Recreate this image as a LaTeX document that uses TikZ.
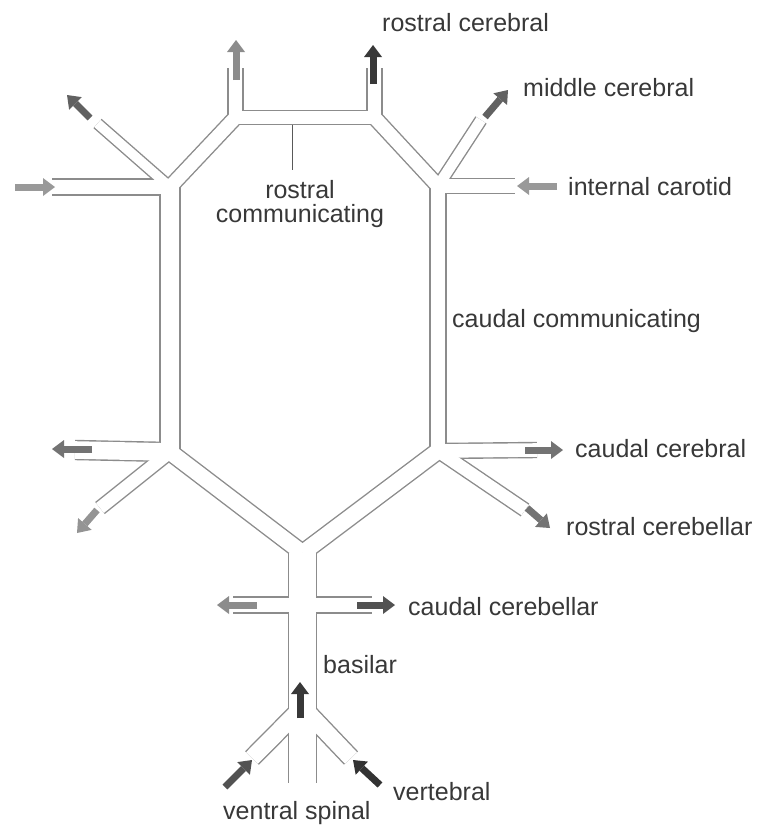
\documentclass[tikz,border=0pt]{standalone}
\usepackage{fontspec}
\setmainfont{Liberation Sans}
\usepackage{tikz}
\usetikzlibrary{arrows.meta}
\colorlet{wallgray}{black!45}
\colorlet{txtgray}{black!78}

\begin{document}
\begin{tikzpicture}[x=1pt,y=-1pt,
  wall/.style={draw=wallgray, line cap=butt},
  lumen/.style={draw=white, line cap=butt},
  lbl/.style={font=\fontsize{25}{24}\selectfont, text=txtgray, inner sep=0pt, anchor=base west},
  flow/.style={-{Triangle[width=18pt,length=12pt,line width=0pt]}, line width=7pt, draw=black!#1},
  leader/.style={draw=black!65, line width=1pt},
]
\useasboundingbox (0,0) rectangle (764,830);

% Junctions of the ring
\coordinate (TLup) at (235.5,68);
\coordinate (TL)   at (235.5,117.5);
\coordinate (TR)   at (374.5,117.5);
\coordinate (TRup) at (374.5,68);
\coordinate (LU)   at (170,187);
\coordinate (RU)   at (438,186);
\coordinate (LL)   at (170,452);
\coordinate (RL)   at (438,451);
\coordinate (V)    at (302.5,553);
\coordinate (VB)   at (302.5,707);
\coordinate (BS)   at (302.5,783);

% Open ends of the branches
\coordinate (icL)  at (52,187);
\coordinate (mcL)  at (97.5,123.5);
\coordinate (icR)  at (515,186);
\coordinate (mcR)  at (481,120);
\coordinate (ccL)  at (75,450);
\coordinate (rcbL) at (100,508);
\coordinate (ccR)  at (537,450);
\coordinate (rcbR) at (525,510);
\coordinate (cbL)  at (233,605);
\coordinate (cbR)  at (372,605);
\coordinate (vtL)  at (252,758);
\coordinate (vtR)  at (351,758);

% Vessels: walls first, then hollow them out
\def\vesselsegs{TLup/TL/15, TL/TR/14, TR/TRup/15, TL/LU/15, TR/RU/15,
  icL/LU/16, mcL/LU/11, LU/LL/20, RU/RL/16, RU/icR/15, RU/mcR/12,
  LL/ccL/19, LL/rcbL/14, LL/V/17, RL/ccR/15, RL/rcbR/14, RL/V/17,
  V/BS/28, cbL/cbR/16, VB/vtL/18, VB/vtR/18}
\foreach \a/\b/\w in \vesselsegs
  \draw[wall, line width=\w*1pt+1.4pt] (\a) -- (\b);
\foreach \a/\b/\w in \vesselsegs
  \draw[lumen, line width=\w*1pt-1.4pt] (\a) -- (\b);

% Flow arrows
\draw[flow=45] (236,80) -- (236,40);
\draw[flow=78] (373,84) -- (373,45);
\draw[flow=62] (485,117) -- (508,90);
\draw[flow=40] (557,186) -- (517,186);
\draw[flow=62] (90,118) -- (67,95);
\draw[flow=40] (15,187) -- (55,187);
\draw[flow=55] (92,449) -- (52,449);
\draw[flow=42] (97,510) -- (77,533);
\draw[flow=55] (525,450) -- (563,450);
\draw[flow=55] (527,508) -- (550,528);
\draw[flow=45] (257,605) -- (217,605);
\draw[flow=68] (357,605) -- (395,605);
\draw[flow=78] (300,718) -- (300,682);
\draw[flow=68] (225,787) -- (252,760);
\draw[flow=80] (380,785) -- (353,760);

% Labels
\node[lbl] (rcereb)  at (382,31)  {rostral cerebral};
\node[lbl] (mcereb)  at (523,96)  {middle cerebral};
\node[lbl] (icarot)  at (568,195) {internal carotid};
\node[lbl] (ccomm)   at (452,327) {caudal communicating};
\node[lbl] (ccereb)  at (575,457) {caudal cerebral};
\node[lbl] (rcbell)  at (566,535) {rostral cerebellar};
\node[lbl] (ccbell)  at (408,615) {caudal cerebellar};
\node[lbl] (basil)   at (323,673) {basilar};
\node[lbl] (vertb)   at (393,800) {vertebral};
\node[lbl] (vspin)   at (223,819) {ventral spinal};
\node[lbl, anchor=north, align=center] (rcomm) at (300,180) {rostral\\communicating};

% Leader to the rostral communicating artery
\coordinate (rcommtick) at (292,124.5);
\draw[leader, shorten >=10pt] (rcommtick) -- (rcommtick |- rcomm.north);
\end{tikzpicture}
\end{document}
